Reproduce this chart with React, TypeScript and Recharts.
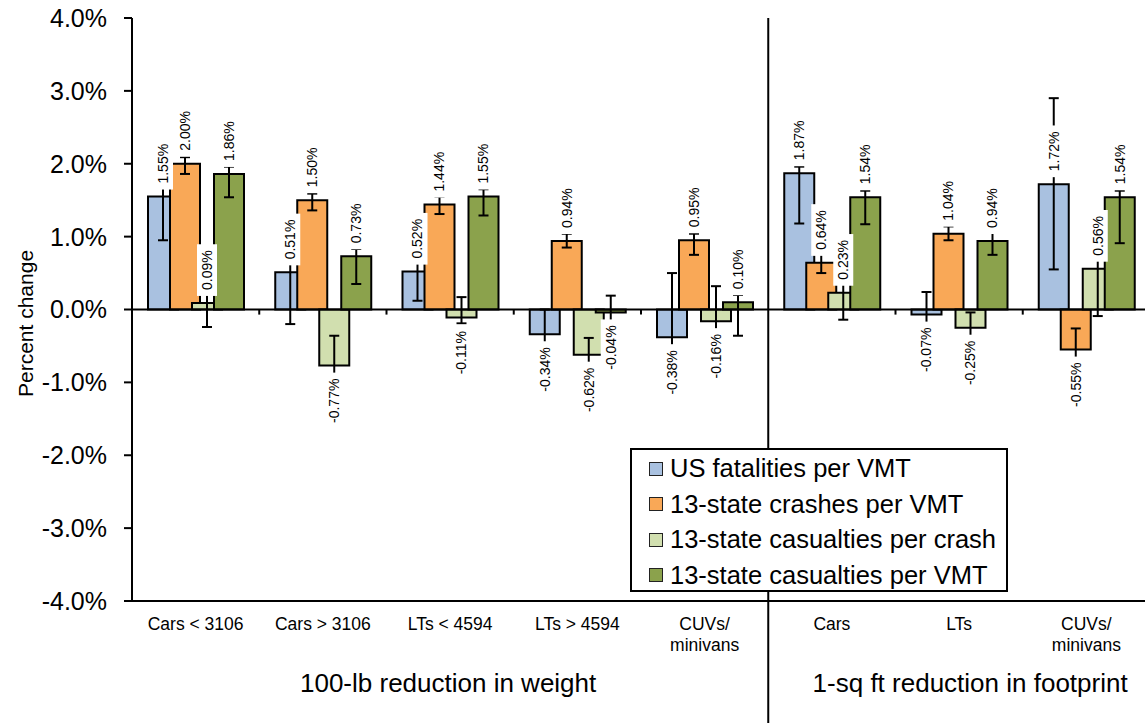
import React from 'react';
import {
  BarChart,
  Bar,
  XAxis,
  YAxis,
  ErrorBar,
  ReferenceLine,
  ReferenceArea,
  Legend,
  LabelList,
} from 'recharts';

// Vehicle classes along the horizontal axis ("\n" breaks a label onto two lines)
const categories = [
  'Cars < 3106',
  'Cars > 3106',
  'LTs < 4594',
  'LTs > 4594',
  'CUVs/\nminivans',
  'Cars',
  'LTs',
  'CUVs/\nminivans',
];

// Percent change per series, with lower / upper bounds of each interval
const fatalities = [1.55, 0.51, 0.52, -0.34, -0.38, 1.87, -0.07, 1.72];
const fatalitiesLow = [0.95, -0.2, 0.12, -0.68, -1.0, 1.18, -0.38, 0.55];
const fatalitiesHigh = [2.15, 1.05, 0.92, 0.0, 0.5, 1.96, 0.24, 2.9];

const crashes = [2.0, 1.5, 1.44, 0.94, 0.95, 0.64, 1.04, -0.55];
const crashesLow = [1.86, 1.36, 1.31, 0.85, 0.75, 0.5, 0.95, -0.84];
const crashesHigh = [2.09, 1.59, 1.55, 1.04, 1.04, 0.78, 1.14, -0.26];

const casualtiesPerCrash = [0.09, -0.77, -0.11, -0.62, -0.16, 0.23, -0.25, 0.56];
const casualtiesPerCrashLow = [-0.24, -1.18, -0.19, -0.85, -0.64, -0.14, -0.46, -0.09];
const casualtiesPerCrashHigh = [0.42, -0.36, 0.17, -0.39, 0.32, 0.6, -0.04, 1.2];

const casualtiesPerVmt = [1.86, 0.73, 1.55, -0.04, 0.1, 1.54, 0.94, 1.54];
const casualtiesPerVmtLow = [1.54, 0.35, 1.29, -0.27, -0.36, 1.17, 0.75, 0.91];
const casualtiesPerVmtHigh = [1.96, 0.83, 1.65, 0.19, 0.2, 1.63, 1.05, 1.63];

const seriesNames = [
  'US fatalities per VMT',
  '13-state crashes per VMT',
  '13-state casualties per crash',
  '13-state casualties per VMT',
];
const seriesColors = ['#A9C1E0', '#F9A857', '#D1DFAF', '#8BA24C'];

const yTicks = [-4, -3, -2, -1, 0, 1, 2, 3, 4];

// Two groups of categories, given as first / last category index
const groupTitles = ['100-lb reduction in weight', '1-sq ft reduction in footprint'];
const groupSpans = [
  [0, 4],
  [5, 7],
];
const groupTitleShift = [-2, 11];
// Categories whose left edge gets a small tick on the zero line
const boundaryIds = [1, 2, 3, 4, 6, 7];
// Category whose left edge separates the two groups
const dividerId = 5;

const series = [
  { key: 'fatal', values: fatalities, low: fatalitiesLow, high: fatalitiesHigh },
  { key: 'crash', values: crashes, low: crashesLow, high: crashesHigh },
  { key: 'cpc', values: casualtiesPerCrash, low: casualtiesPerCrashLow, high: casualtiesPerCrashHigh },
  { key: 'cpv', values: casualtiesPerVmt, low: casualtiesPerVmtLow, high: casualtiesPerVmtHigh },
].map((s, i) => ({ ...s, name: seriesNames[i], color: seriesColors[i] }));

const rows = categories.map((category, i) => {
  const row: Record<string, any> = { id: i, category };
  series.forEach((s) => {
    row[s.key] = s.values[i];
    row[s.key + 'Err'] = [s.values[i] - s.low[i], s.high[i] - s.values[i]];
  });
  return row;
});

const FONT = '"Liberation Sans", Arial, Helvetica, sans-serif';
const LABEL_FONT = 14;
const LABEL_GAP = 13;

const CHAR_W: Record<string, number> = {
  '0': 0.556, '1': 0.556, '2': 0.556, '3': 0.556, '4': 0.556,
  '5': 0.556, '6': 0.556, '7': 0.556, '8': 0.556, '9': 0.556,
  '.': 0.278, '%': 0.889, '-': 0.333,
};
const textLength = (s: string, size: number) =>
  s.split('').reduce((w, c) => w + (CHAR_W[c] ?? 0.556) * size, 0);

// Rotated value label on a white plate, just beyond the end of its bar
const renderValueLabel = (props: any) => {
  const vb = props.viewBox ?? {};
  const x = props.x ?? vb.x;
  const y = props.y ?? vb.y;
  const w = props.width ?? vb.width;
  const h = props.height ?? vb.height;
  const value = Number(props.value);
  if (!Number.isFinite(value) || x == null || y == null) return null;
  const text = value.toFixed(2) + '%';
  const len = textLength(text, LABEL_FONT);
  const cx = x + w / 2;
  const top = Math.min(y, y + h);
  const bottom = Math.max(y, y + h);
  const cy = value >= 0 ? top - LABEL_GAP - len / 2 : bottom + LABEL_GAP + len / 2;
  return (
    <g>
      <rect x={cx - 10} y={cy - len / 2 - 6} width={20} height={len + 12} fill="#fff" />
      <text
        x={cx}
        y={cy}
        transform={`rotate(-90 ${cx} ${cy})`}
        textAnchor="middle"
        dominantBaseline="central"
        fontSize={LABEL_FONT}
        fill="#000"
      >
        {text}
      </text>
    </g>
  );
};

const CategoryTick = (props: any) => {
  const { x, y, payload } = props;
  const lines = String(categories[payload.value] ?? '').split('\n');
  return (
    <text x={x} y={y} textAnchor="middle" fontSize={17.5} fill="#000">
      {lines.map((line, i) => (
        <tspan key={i} x={x} dy={i === 0 ? 29 : 21}>
          {line}
        </tspan>
      ))}
    </text>
  );
};

const makeGroupTitle = (title: string, shift: number) => (props: any) => {
  const vb = props.viewBox ?? {};
  if (vb.x == null) return null;
  const cx = vb.x + vb.width / 2 + shift;
  const baseline = vb.y + vb.height;
  return (
    <text x={cx} y={baseline} textAnchor="middle" fontSize={26} fill="#000">
      {title}
    </text>
  );
};

const renderYTitle = (props: any) => {
  const vb = props?.viewBox ?? { x: 20, y: 18, width: 112, height: 583 };
  const cx = vb.x + 5;
  const cy = vb.y + vb.height / 2 + 14;
  return (
    <text
      x={cx}
      y={cy}
      transform={`rotate(-90 ${cx} ${cy})`}
      textAnchor="middle"
      dominantBaseline="central"
      fontSize={21}
      fill="#000"
    >
      Percent change
    </text>
  );
};

const LegendBox = (props: any) => {
  const given: any[] = props.payload ?? [];
  const payload = given.length
    ? [...given].sort((a, b) => seriesNames.indexOf(a.value) - seriesNames.indexOf(b.value))
    : series.map((s) => ({ value: s.name, color: s.color }));
  return (
    <div
      style={{
        boxSizing: 'border-box',
        width: 378,
        height: 144,
        border: '2px solid #000',
        background: '#fff',
        paddingTop: 1,
        fontFamily: FONT,
      }}
    >
      {payload.map((item, i) => (
        <div
          key={i}
          style={{ display: 'flex', alignItems: 'center', height: 35.5, paddingLeft: 17 }}
        >
          <span
            style={{
              boxSizing: 'border-box',
              display: 'inline-block',
              width: 14,
              height: 14,
              border: '1.5px solid #222',
              background: item.color,
              marginRight: 7,
            }}
          />
          <span style={{ fontSize: 25.5, lineHeight: 1, color: '#000', whiteSpace: 'nowrap' }}>
            {item.value}
          </span>
        </div>
      ))}
    </div>
  );
};

export default function App() {
  return (
    <div
      style={{
        position: 'fixed',
        left: 0,
        top: 0,
        width: 1145,
        height: 723,
        overflow: 'hidden',
        background: '#fff',
        fontFamily: FONT,
      }}
    >
      <BarChart
        width={1160}
        height={723}
        data={rows}
        margin={{ top: 18, right: 10, bottom: 0, left: 20 }}
        barGap={-8}
      >
        <XAxis
          xAxisId="cat"
          dataKey="id"
          type="category"
          height={122}
          interval={0}
          axisLine={{ stroke: '#000', strokeWidth: 2 }}
          tickLine={false}
          tickSize={0}
          tickMargin={0}
          tick={<CategoryTick />}
        />
        <YAxis
          type="number"
          domain={[-4, 4]}
          ticks={yTicks}
          interval={0}
          allowDataOverflow
          width={112}
          tickFormatter={(v: number) => v.toFixed(1) + '%'}
          axisLine={{ stroke: '#000', strokeWidth: 2 }}
          tickLine={{ stroke: '#000', strokeWidth: 2 }}
          tickSize={8}
          tickMargin={17}
          tick={{ fill: '#000', fontSize: 25 }}
          label={renderYTitle}
        />
        <Legend
          layout="horizontal"
          verticalAlign="middle"
          align="center"
          content={LegendBox}
          wrapperStyle={{ left: 630, top: 448, width: 378, height: 144 }}
        />
        {series.map((s) => (
          <Bar
            key={s.key}
            xAxisId="cat"
            dataKey={s.key}
            name={s.name}
            fill={s.color}
            stroke="#000"
            strokeWidth={2}
            barSize={30}
            isAnimationActive={false}
          >
            <ErrorBar
              dataKey={s.key + 'Err'}
              width={5}
              stroke="#000"
              strokeWidth={2}
              direction="y"
              isAnimationActive={false}
            />
            <LabelList dataKey={s.key} content={renderValueLabel} />
          </Bar>
        ))}
        <ReferenceLine xAxisId="cat" y={0} stroke="#000" strokeWidth={2} />
        {boundaryIds.map((b) => (
          <ReferenceLine
            key={b}
            xAxisId="cat"
            position="start"
            segment={[
              { x: b, y: 0 },
              { x: b, y: -0.07 },
            ]}
            stroke="#000"
            strokeWidth={2}
          />
        ))}
        <ReferenceLine
          xAxisId="cat"
          position="start"
          segment={[
            { x: dividerId, y: 4 },
            { x: dividerId, y: -5.68 },
          ]}
          ifOverflow="visible"
          stroke="#000"
          strokeWidth={2}
        />
        {groupSpans.map(([from, to], i) => (
          <ReferenceArea
            key={groupTitles[i]}
            xAxisId="cat"
            x1={from}
            x2={to}
            y1={-5.0}
            y2={-5.25}
            ifOverflow="visible"
            fill="none"
            stroke="none"
            label={makeGroupTitle(groupTitles[i], groupTitleShift[i])}
          />
        ))}
      </BarChart>
    </div>
  );
}
